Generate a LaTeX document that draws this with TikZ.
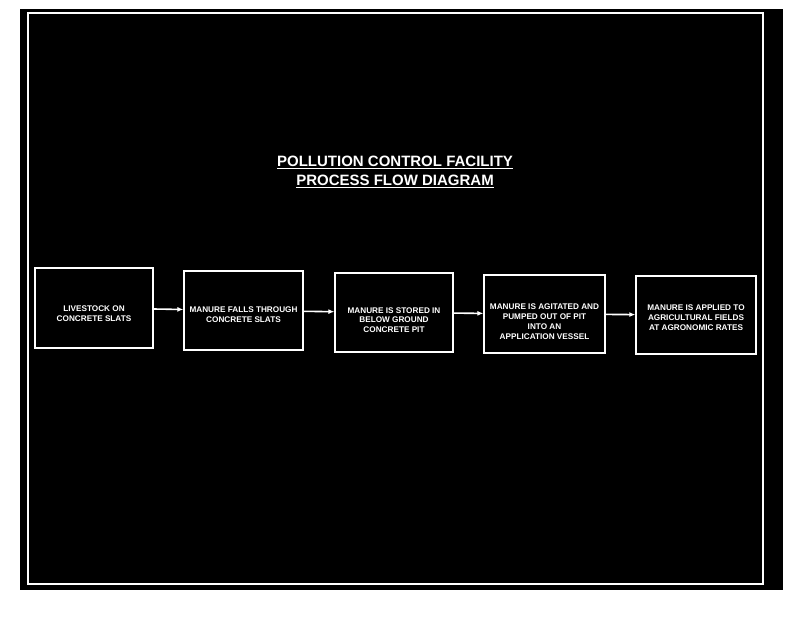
\documentclass[tikz,border=0pt]{standalone}
\usepackage{fontspec}
\setmainfont{Liberation Sans}
\usetikzlibrary{arrows.meta}
\begin{document}
\begin{tikzpicture}[x=1pt,y=-1pt,
  procbox/.style={draw=white,line width=1.3pt,minimum width=#1,inner sep=0pt},
  boxtext/.style={text=white,font=\fontsize{8.2}{9.8}\selectfont\bfseries,align=center,inner sep=0pt},
  flow/.style={draw=white,line width=1.6pt,-{Latex[length=6pt,width=5pt]}},
  titletext/.style={text=white,font=\fontsize{15}{19}\selectfont\bfseries,align=center,inner sep=1pt}]
\useasboundingbox (0,0) rectangle (800,618);
\fill[white] (0,0) rectangle (800,618);
\fill[black] (20,9) rectangle (783,590);
\draw[white,line width=2pt] (28,13) rectangle (763,584);
% title
\node[titletext] (title) at (395,172) {\underline{POLLUTION CONTROL FACILITY}\\\underline{PROCESS FLOW DIAGRAM}};
% boxes
\node[procbox=118pt,minimum height=80pt] (b1) at (94,308) {};
\node[procbox=119pt,minimum height=79pt] (b2) at (243.5,310.5) {};
\node[procbox=118pt,minimum height=79pt] (b3) at (394,312.5) {};
\node[procbox=121pt,minimum height=78pt] (b4) at (544.5,314) {};
\node[procbox=120pt,minimum height=78pt] (b5) at (696,315) {};
% texts
\node[boxtext] (t1) at (94,314) {LIVESTOCK ON\\CONCRETE SLATS};
\node[boxtext] (t2) at (243.5,315) {MANURE FALLS THROUGH\\CONCRETE SLATS};
\node[boxtext] (t3) at (394,320) {MANURE IS STORED IN\\BELOW GROUND\\CONCRETE PIT};
\node[boxtext] (t4) at (544.5,321.5) {MANURE IS AGITATED AND\\PUMPED OUT OF PIT\\INTO AN\\APPLICATION VESSEL};
\node[boxtext] (t5) at (696,317.5) {MANURE IS APPLIED TO\\AGRICULTURAL FIELDS\\AT AGRONOMIC RATES};
% connectors
\draw[flow] (b1) -- (b2);
\draw[flow] (b2) -- (b3);
\draw[flow] (b3) -- (b4);
\draw[flow] (b4) -- (b5);
\end{tikzpicture}
\end{document}
